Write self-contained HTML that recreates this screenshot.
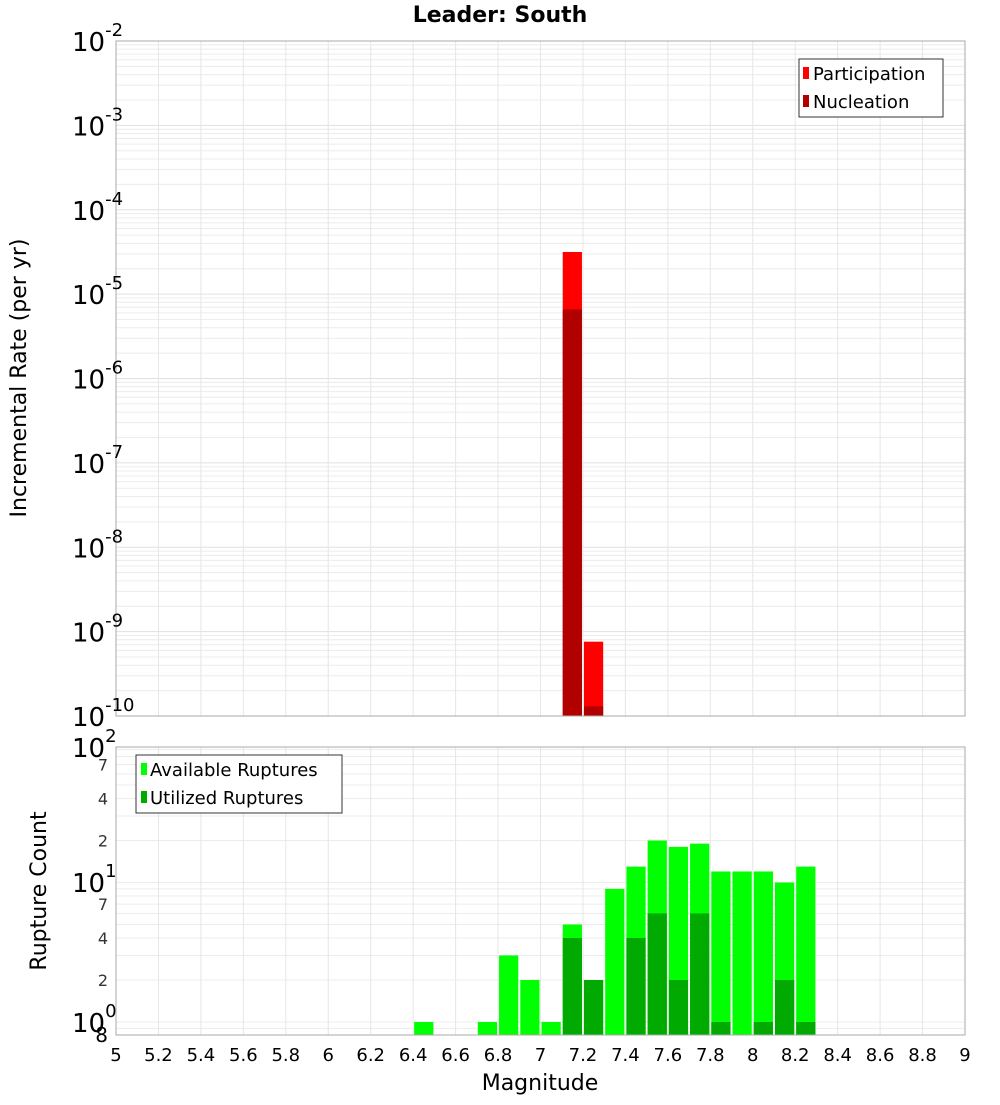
<!DOCTYPE html>
<html><head><meta charset="utf-8"><style>
body{margin:0;background:#fff;}
svg text{font-family:"DejaVu Sans","Liberation Sans",sans-serif;}
</style></head><body>
<svg id="chart" width="1000" height="1100" xmlns="http://www.w3.org/2000/svg">
<rect x="0" y="0" width="1000" height="1100" fill="#fff"/>
<text x="500" y="22" text-anchor="middle" font-size="22" font-weight="bold">Leader: South</text>
<g id="topPlot"></g>
<g id="botPlot"></g>
<text transform="translate(26,378) rotate(-90)" text-anchor="middle" font-size="22">Incremental Rate (per yr)</text>
<text transform="translate(46,891) rotate(-90)" text-anchor="middle" font-size="22">Rupture Count</text>
<text x="540" y="1090" text-anchor="middle" font-size="22">Magnitude</text>
<g>
<rect x="799" y="59" width="144" height="58" fill="#fff" stroke="#333"/>
<rect x="803" y="67" width="6" height="12" fill="#ff0000"/>
<text x="813" y="80" font-size="18">Participation</text>
<rect x="803" y="95" width="6" height="12" fill="#b00000"/>
<text x="813" y="108" font-size="18">Nucleation</text>
</g>
<g>
<rect x="136" y="755" width="206" height="58" fill="#fff" stroke="#333"/>
<rect x="141" y="763" width="6" height="12" fill="#00ff00"/>
<text x="150" y="776" font-size="18">Available Ruptures</text>
<rect x="141" y="791" width="6" height="12" fill="#00aa00"/>
<text x="150" y="804" font-size="18">Utilized Ruptures</text>
</g>
</svg>
<script>
const binStarts=[6.4,6.7,6.8,6.9,7.0,7.1,7.2,7.3,7.4,7.5,7.6,7.7,7.8,7.9,8.0,8.1,8.2];
const availableCounts=[1,1,3,2,1,5,2,9,13,20,18,19,12,12,12,10,13];
const utilizedCounts=[0,0,0,0,0,4,2,0,4,6,2,6,1,0,1,2,1];
const rateBins=[7.1,7.2];
const participationRates=[3.16e-5,7.6e-10];
const nucleationRates=[6.6e-6,1.3e-10];
const xTicks=[5,5.2,5.4,5.6,5.8,6,6.2,6.4,6.6,6.8,7,7.2,7.4,7.6,7.8,8,8.2,8.4,8.6,8.8,9];
const topExps=[-2,-3,-4,-5,-6,-7,-8,-9,-10];
const botMinorTicks=[2,4,7,20,40,70];

const NS="http://www.w3.org/2000/svg";
const L=116,R=965,T1=41,B1=716,T2=747,B2=1035;
const X=m=>L+(m-5)/4*(R-L);
const Y1=v=>T1+(-2-Math.log10(v))*(B1-T1)/8;
const Y2=v=>1022-139.5*Math.log10(v);
function mk(p,tag,a){const e=document.createElementNS(NS,tag);for(const k in a)e.setAttribute(k,a[k]);p.appendChild(e);return e;}
const topG=document.getElementById('topPlot'),botG=document.getElementById('botPlot');

mk(topG,'rect',{x:L,y:T1,width:R-L,height:B1-T1,fill:'#fff'});
for(let e=-10;e<-2;e++){for(let k=1;k<10;k++){const y=Y1(k*Math.pow(10,e));
 const g=mk(topG,'line',{x1:L,x2:R,y1:y,y2:y,stroke:k==1?'#e0e0e0':'#ececec','stroke-width':1});
 
 }}
xTicks.forEach(t=>{const x=X(t);mk(topG,'line',{x1:x,x2:x,y1:T1,y2:B1,stroke:'#e6e6e6'});mk(botG,'line',{x1:x,x2:x,y1:T2,y2:B2,stroke:'#e6e6e6'});});
rateBins.forEach((m,i)=>{
 const x=X(m)+1,w=X(m+0.1)-X(m)-2;
 const p=mk(topG,'rect',{x:x,y:Y1(participationRates[i]),width:w,height:B1-Y1(participationRates[i]),fill:'#ff0000'});
 
 
 const n=mk(topG,'rect',{x:x,y:Y1(nucleationRates[i]),width:w,height:B1-Y1(nucleationRates[i]),fill:'#b00000'});
 
 
});
mk(topG,'rect',{x:L,y:T1,width:R-L,height:B1-T1,fill:'none',stroke:'#aaa'});
topExps.forEach(e=>{const y=Y1(Math.pow(10,e));
 const t=mk(topG,'text',{x:72,y:y+10,'font-size':26});
 
 
 t.textContent='10';const s=mk(t,'tspan',{dy:-15,'font-size':18});s.textContent=String(e);});

mk(botG,'rect',{x:L,y:T2,width:R-L,height:B2-T2,fill:'#fff'});
for(let e=-1;e<2;e++){for(let k=1;k<10;k++){const v=k*Math.pow(10,e);const y=Y2(v);if(y<T2||y>B2)continue;
 const g=mk(botG,'line',{x1:L,x2:R,y1:y,y2:y,stroke:'#ececec'});
 
 }}
xTicks.forEach(t=>{const x=X(t);mk(botG,'line',{x1:x,x2:x,y1:T2,y2:B2,stroke:'#e6e6e6'});});
binStarts.forEach((m,i)=>{
 const x=X(m)+1,w=X(m+0.1)-X(m)-2;
 const a=mk(botG,'rect',{x:x,y:Y2(availableCounts[i]),width:w,height:B2-Y2(availableCounts[i]),fill:'#00ff00'});
 
 
 if(utilizedCounts[i]>0){const u=mk(botG,'rect',{x:x,y:Y2(utilizedCounts[i]),width:w,height:B2-Y2(utilizedCounts[i]),fill:'#00aa00'});
 
 }
});
mk(botG,'rect',{x:L,y:T2,width:R-L,height:B2-T2,fill:'none',stroke:'#aaa'});
[[100,'2',747],[10,'1',882],[1,'0',1022]].forEach(([v,s,y])=>{
 const t=mk(botG,'text',{x:72,y:y+10,'font-size':26});
 
 
 t.textContent='10';const sp=mk(t,'tspan',{dy:-15,'font-size':18});sp.textContent=s;});
botMinorTicks.forEach(v=>{const t=mk(botG,'text',{x:108,y:Y2(v)+6,'text-anchor':'end','font-size':16,fill:'#333'});
 
 
 t.textContent=String(v).charAt(0);});
{const t=mk(botG,'text',{x:108,y:1042,'text-anchor':'end','font-size':20});
 
 
 t.textContent='8';}
xTicks.forEach(v=>{const t=mk(botG,'text',{x:X(v),y:1061,'text-anchor':'middle','font-size':18});
 
 
 t.textContent=String(Math.round(v*10)/10);});
</script>
</body></html>
